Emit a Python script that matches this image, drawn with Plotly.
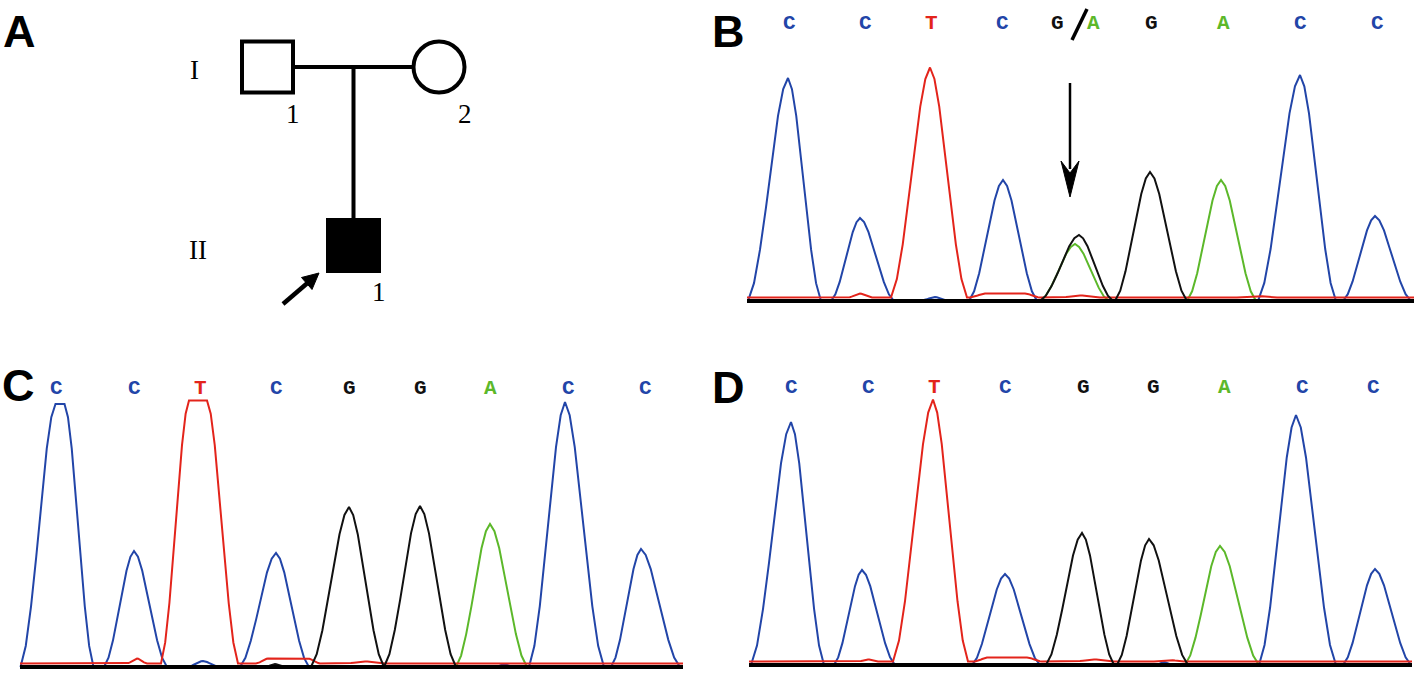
import plotly.graph_objects as go

W, H = 1418, 674

# ---------------- data ----------------
BASE_COLORS = {"C": "#2245a8", "T": "#e3241b", "A": "#5cb82a", "G": "#111111"}
CHANNEL_ORDER = ["C", "A", "T", "G"]
CHANNEL_OFFSET = {"C": 0.0, "A": 0.0, "T": 3.5, "G": 0.0}

# normalised peak profile read off a typical peak (foot -> near apex)
PROFILE_U = [1.0, 0.85, 0.7, 0.55, 0.4, 0.25, 0.12]
PROFILE_V = [0.0, 0.08, 0.23, 0.42, 0.63, 0.83, 0.95]

# ---- Panel B : proband (heterozygous G/A) ----
B_call_text = ["C", "C", "T", "C", "G", "A", "G", "A", "C", "C"]
B_call_scan = [42, 118, 184, 255, 310, 346, 404, 476, 553, 630]
B_peak_base = ["C", "C", "T", "C", "G", "A", "G", "A", "C", "C"]
B_peak_scan = [41, 113, 183, 256, 332, 328, 403, 474, 553, 628]
B_peak_height = [223, 83, 230, 121, 66, 57, 129, 121, 226, 85]
B_peak_left = [40, 29, 39, 34, 39, 35, 35, 34, 42, 32]
B_peak_right = [33, 34, 37, 34, 34, 34, 37, 35, 36, 36]
B_peak_flat = [0, 0, 0, 0, 0, 0, 0, 0, 0, 0]
B_minor_base = ["T", "T", "T", "T", "C"]
B_minor_scan = [113, 258, 333, 510, 188]
B_minor_height = [4, 4, 2, 1.5, 4]
B_minor_left = [12, 15, 20, 20, 15]
B_minor_right = [12, 15, 20, 20, 15]
B_minor_flat = [0, 40, 0, 0, 0]
B_scan_end = 667

# ---- Panel C : father (wild type) ----
C_call_text = ["C", "C", "T", "C", "G", "G", "A", "C", "C"]
C_call_scan = [36, 114, 180, 256, 329, 400, 470, 548, 625]
C_peak_base = ["C", "C", "T", "C", "G", "G", "A", "C", "C"]
C_peak_scan = [40, 114, 178, 256, 329, 400, 470, 545, 621]
C_peak_height = [263, 116, 263, 114, 160, 161, 143, 265, 118]
C_peak_left = [35, 30, 28, 36, 38, 36, 34, 36, 30]
C_peak_right = [29, 33, 31, 33, 35, 36, 37, 39, 39]
C_peak_flat = [9, 0, 18, 0, 0, 0, 0, 0, 0]
C_minor_base = ["T", "T", "T", "C", "C", "G"]
C_minor_scan = [117, 268, 345, 183, 484, 255]
C_minor_height = [5, 5, 2, 6, 3, 3]
C_minor_left = [10, 12, 20, 16, 8, 10]
C_minor_right = [10, 12, 20, 16, 8, 10]
C_minor_flat = [0, 40, 0, 0, 0, 0]
C_scan_end = 663

# ---- Panel D : mother (wild type) ----
D_call_text = ["C", "C", "T", "C", "G", "G", "A", "C", "C"]
D_call_scan = [42, 119, 185, 256, 334, 404, 475, 553, 624]
D_peak_base = ["C", "C", "T", "C", "G", "G", "A", "C", "C"]
D_peak_scan = [42, 113, 184, 256, 333, 400, 471, 547, 626]
D_peak_height = [243, 95, 262, 91, 132, 126, 119, 250, 96]
D_peak_left = [40, 28, 40, 33, 36, 32, 35, 37, 32]
D_peak_right = [33, 33, 35, 35, 32, 39, 39, 40, 36]
D_peak_flat = [0, 0, 0, 0, 0, 0, 0, 0, 0]
D_minor_base = ["T", "T", "T", "T", "C"]
D_minor_scan = [119, 258, 345, 420, 415]
D_minor_height = [2, 4, 2, 1.5, 3]
D_minor_left = [10, 12, 20, 15, 8]
D_minor_right = [10, 15, 20, 15, 8]
D_minor_flat = [0, 40, 0, 0, 0]
D_scan_end = 663

# ---- Panel A : pedigree ----
ped_generation = ["I", "II"]
ped_generation_y = [70, 250]
ped_ids = ["I-1", "I-2", "II-1"]
ped_sex = ["male", "female", "male"]
ped_affected = [False, False, True]
ped_cx = [267.5, 439, 353.5]
ped_cy = [67, 67, 245.5]
ped_number = ["1", "2", "1"]
ped_size = 51
ped_proband = "II-1"


# ---------------- figure ----------------
fig = go.Figure()


def build_channel(base, peaks, x_end):
    pts = sorted([p for p in peaks if p[0] == base], key=lambda p: p[1])
    off = CHANNEL_OFFSET[base]
    xs, ys = [], []
    first = min([0] + [p[1] - p[5] / 2 - p[3] for p in pts])
    xs.append(first)
    ys.append(off)
    for _, c, h, L, R, flat in pts:
        lc, rc = c - flat / 2, c + flat / 2
        for u, v in zip(PROFILE_U, PROFILE_V):
            xs.append(lc - u * L)
            ys.append(off + v * h)
        xs.append(lc)
        ys.append(off + h)
        if flat:
            xs.append(rc)
            ys.append(off + h)
        for u, v in zip(PROFILE_U[::-1], PROFILE_V[::-1]):
            xs.append(rc + u * R)
            ys.append(off + v * h)
    xs.append(x_end)
    ys.append(off)
    return xs, ys


panels = [
    ("x", "y", B_peak_base, B_peak_scan, B_peak_height, B_peak_left, B_peak_right, B_peak_flat,
     B_minor_base, B_minor_scan, B_minor_height, B_minor_left, B_minor_right, B_minor_flat,
     B_scan_end, B_call_text, B_call_scan, 278),
    ("x2", "y2", C_peak_base, C_peak_scan, C_peak_height, C_peak_left, C_peak_right, C_peak_flat,
     C_minor_base, C_minor_scan, C_minor_height, C_minor_left, C_minor_right, C_minor_flat,
     C_scan_end, C_call_text, C_call_scan, 279),
    ("x3", "y3", D_peak_base, D_peak_scan, D_peak_height, D_peak_left, D_peak_right, D_peak_flat,
     D_minor_base, D_minor_scan, D_minor_height, D_minor_left, D_minor_right, D_minor_flat,
     D_scan_end, D_call_text, D_call_scan, 278),
]

annotations = []
for (xa, ya, pb, ps, ph, pl, pr, pf, mb, ms, mh, ml, mr, mf, xend, ct, cs, cy) in panels:
    peaks = list(zip(pb, ps, ph, pl, pr, pf)) + list(zip(mb, ms, mh, ml, mr, mf))
    for base in CHANNEL_ORDER:
        xs, ys = build_channel(base, peaks, xend)
        fig.add_trace(go.Scatter(x=xs, y=ys, mode="lines", xaxis=xa, yaxis=ya,
                                 line=dict(color=BASE_COLORS[base], width=2),
                                 hoverinfo="skip", showlegend=False))
    # baseline
    fig.add_trace(go.Scatter(x=[0, xend], y=[0, 0], mode="lines", xaxis=xa, yaxis=ya,
                             line=dict(color="#000000", width=4),
                             hoverinfo="skip", showlegend=False))
    for t, s in zip(ct, cs):
        annotations.append(dict(x=s, y=cy, xref=xa, yref=ya, text="<b>%s</b>" % t,
                                showarrow=False, xanchor="center", yanchor="middle",
                                font=dict(family="Liberation Mono", size=21,
                                          color=BASE_COLORS[t])))

shapes = []
# slash between G and A in panel B
shapes.append(dict(type="line", xref="x", yref="y", x0=325, y0=261, x1=340, y1=292,
                   line=dict(color="#000000", width=3.5)))
# mutation arrow in panel B
shapes.append(dict(type="line", xref="x", yref="y", x0=323, y0=218, x1=323, y1=132,
                   line=dict(color="#000000", width=2.5)))
shapes.append(dict(type="path", xref="x", yref="y",
                   path="M 323 104 L 314 140 L 323 128 L 332 140 Z",
                   fillcolor="#000000", line=dict(color="#000000", width=1)))

# pedigree
half = ped_size / 2
lw = 4
for i, pid in enumerate(ped_ids):
    cx, cy = ped_cx[i], ped_cy[i]
    fill = "#000000" if ped_affected[i] else "rgba(0,0,0,0)"
    shapes.append(dict(type="rect" if ped_sex[i] == "male" else "circle",
                       xref="x4", yref="y4", x0=cx - half, x1=cx + half,
                       y0=cy - half, y1=cy + half, fillcolor=fill,
                       line=dict(color="#000000", width=lw)))
    annotations.append(dict(x=cx + half, y=cy + half + 21, xref="x4", yref="y4",
                            text=ped_number[i], showarrow=False,
                            xanchor="center", yanchor="middle",
                            font=dict(family="Liberation Serif", size=27, color="#000")))
# mating line and descent line
shapes.append(dict(type="line", xref="x4", yref="y4", x0=ped_cx[0] + half, x1=ped_cx[1] - half,
                   y0=ped_cy[0], y1=ped_cy[1], line=dict(color="#000", width=lw)))
shapes.append(dict(type="line", xref="x4", yref="y4", x0=ped_cx[2], x1=ped_cx[2],
                   y0=ped_cy[0], y1=ped_cy[2] - half, line=dict(color="#000", width=lw)))
for g, gy in zip(ped_generation, ped_generation_y):
    annotations.append(dict(x=198 if g == "II" else 194, y=gy, xref="x4", yref="y4", text=g,
                            showarrow=False, xanchor="center", yanchor="middle",
                            font=dict(family="Liberation Serif", size=27, color="#000")))
# proband arrow
pi = ped_ids.index(ped_proband)
tipx, tipy = ped_cx[pi] - half - 9, ped_cy[pi] + half + 2
shapes.append(dict(type="line", xref="x4", yref="y4", x0=tipx - 36, y0=tipy + 31,
                   x1=tipx - 8, y1=tipy + 7, line=dict(color="#000", width=4.5)))
shapes.append(dict(type="path", xref="x4", yref="y4",
                   path="M %f %f L %f %f L %f %f Z" % (tipx, tipy, tipx - 7, tipy + 16.5,
                                                      tipx - 17.5, tipy + 4.5),
                   fillcolor="#000", line=dict(color="#000", width=1)))

# panel letters
for lab, px, py in [("A", 19, 32), ("B", 728, 32), ("C", 18, 385), ("D", 728, 387)]:
    annotations.append(dict(x=px / W, y=1 - py / H, xref="paper", yref="paper",
                            text="<b>%s</b>" % lab, showarrow=False,
                            xanchor="center", yanchor="middle",
                            font=dict(family="Liberation Sans", size=45, color="#000")))

ax_off = dict(visible=False, fixedrange=True)
fig.update_layout(
    width=W, height=H, margin=dict(l=0, r=0, t=0, b=0),
    paper_bgcolor="white", plot_bgcolor="rgba(0,0,0,0)",
    showlegend=False, hovermode=False,
    xaxis=dict(domain=[745 / W, 1], range=[-2, 671], **ax_off),
    yaxis=dict(domain=[1 - 306 / H, 1], range=[-5, 301], **ax_off),
    xaxis2=dict(domain=[0, 700 / W], range=[-20, 680], **ax_off),
    yaxis2=dict(domain=[0, 1 - 300 / H], range=[-7, 367], **ax_off),
    xaxis3=dict(domain=[712 / W, 1], range=[-37, 669], **ax_off),
    yaxis3=dict(domain=[0, 1 - 300 / H], range=[-9, 365], **ax_off),
    xaxis4=dict(domain=[0, 480 / W], range=[0, 480], **ax_off),
    yaxis4=dict(domain=[1 - 320 / H, 1], range=[320, 0], **ax_off),
    shapes=shapes, annotations=annotations,
)

fig.write_html("out.html", config={"displayModeBar": False},
               post_script="document.body.style.margin='0';document.body.style.overflow='hidden';")
